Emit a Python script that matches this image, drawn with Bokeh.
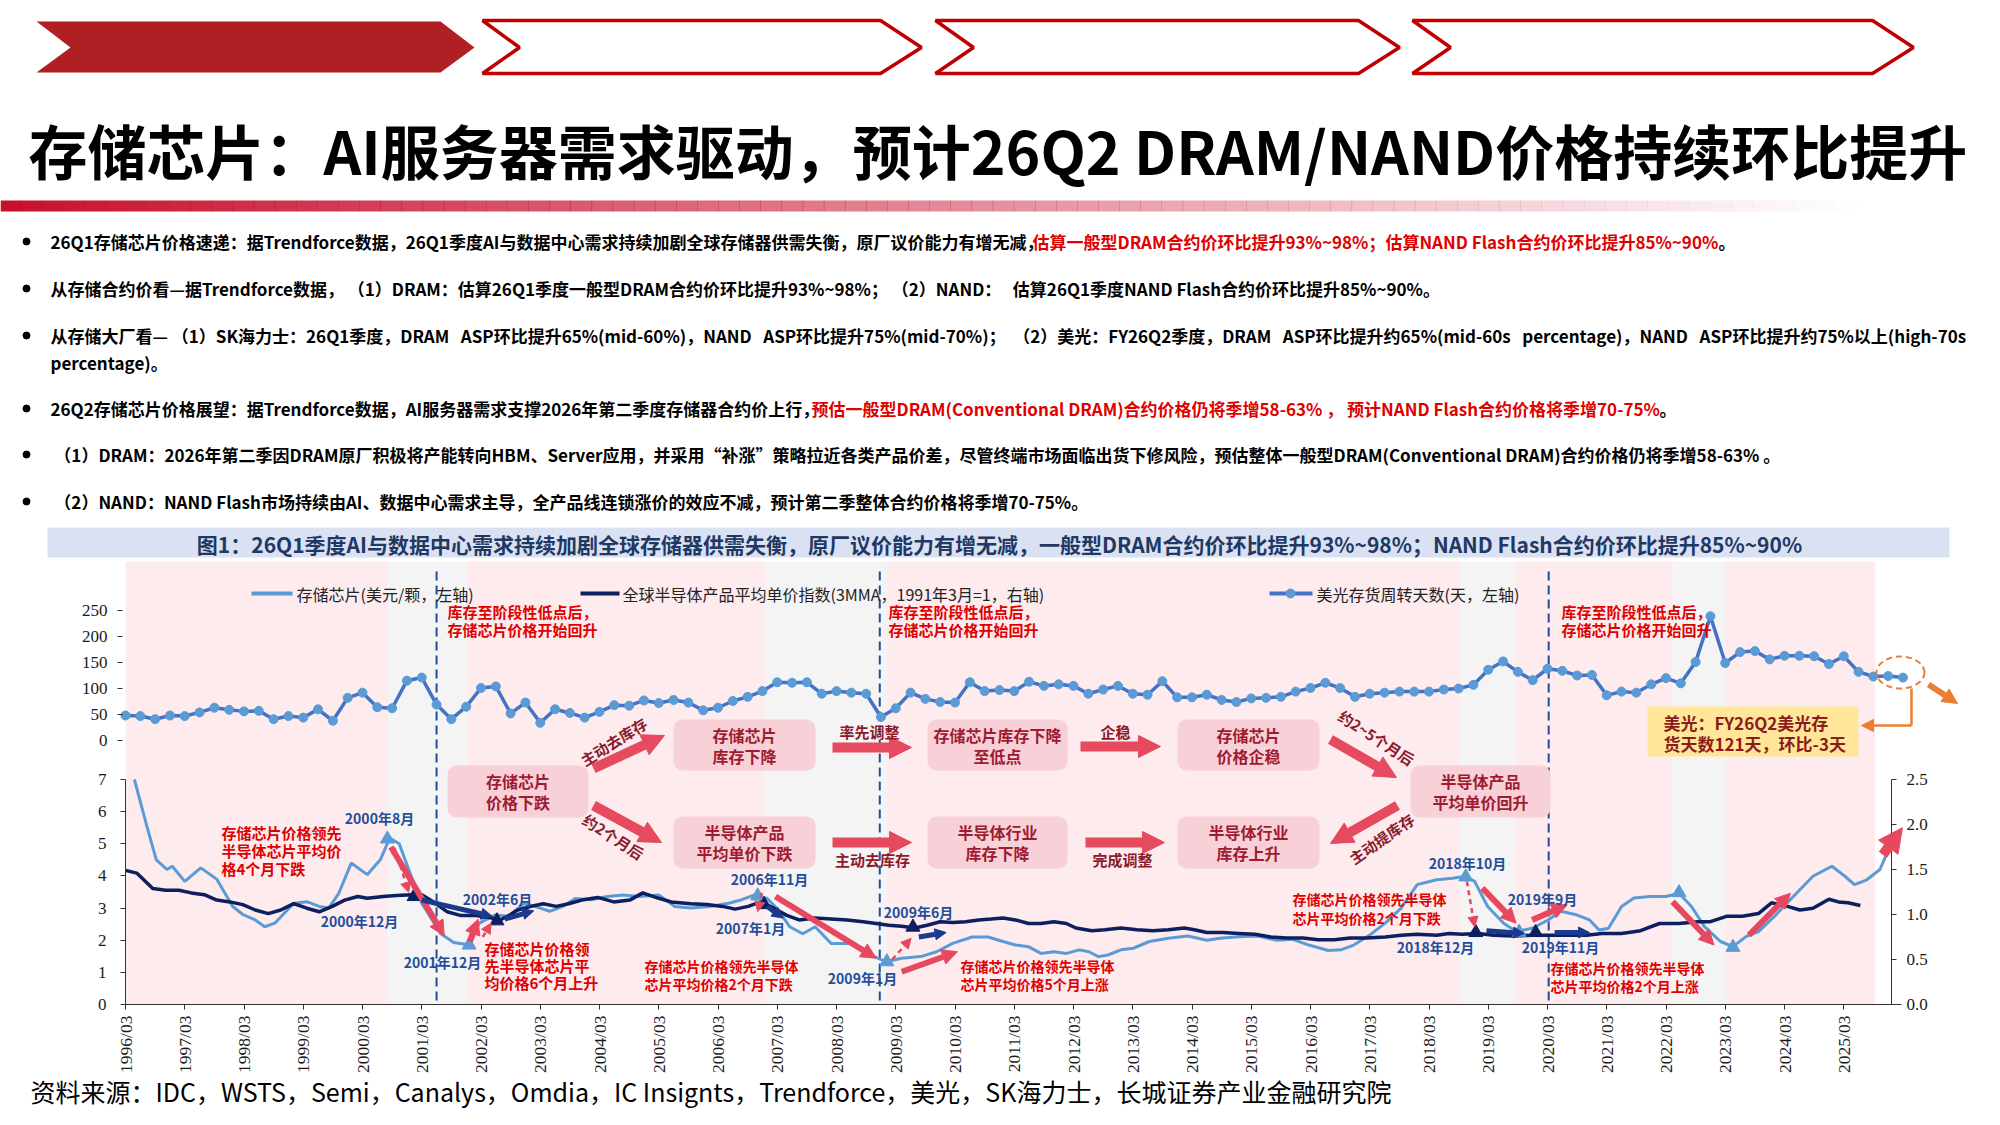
import math
from bokeh.plotting import figure
from bokeh.models import (Range1d, LinearAxis, FixedTicker, Arrow, NormalHead,
                          BoxAnnotation, NumeralTickFormatter, CustomJSTickFormatter)
from bokeh.core.properties import value
from bokeh.embed import file_html
from bokeh.resources import INLINE

# ---------------------------------------------------------------- data
# Micron inventory days, quarterly from 1996/03 to 2026/03 (left axis, top panel)
inv_start = 1996.0
inv_days = [48, 47, 41, 48, 47, 54, 63, 59, 56, 57, 41, 47, 44, 60, 38, 82, 92, 64, 62, 115,
            121, 69, 41, 65, 101, 104, 52, 73, 34, 60, 53, 44, 55, 68, 67, 77, 72, 78, 73, 58,
            63, 76, 84, 95, 112, 111, 112, 90, 95, 92, 90, 45, 62, 92, 80, 74, 73, 112, 95, 97,
            95, 113, 105, 108, 105, 90, 98, 105, 90, 88, 114, 83, 83, 88, 78, 74, 81, 82, 84, 94,
            101, 111, 101, 84, 90, 92, 94, 94, 94, 98, 100, 107, 136, 152, 132, 116, 138, 134, 125, 126,
            87, 94, 92, 108, 120, 110, 151, 239, 149, 170, 172, 156, 163, 163, 162, 147, 162, 132, 123, 124, 121]

# memory chip price (USD/unit, left axis, bottom panel); time = year + (month-3)/12
mem_t = [1996.15, 1996.36, 1996.52, 1996.70, 1996.79, 1997.00, 1997.27, 1997.54, 1997.81, 1997.98,
         1998.19, 1998.35, 1998.52, 1998.84, 1999.06, 1999.27, 1999.43, 1999.60, 1999.81, 2000.08,
         2000.30, 2000.46, 2000.62, 2000.78, 2001.00, 2001.32, 2001.54, 2001.81, 2001.97, 2002.24,
         2002.46, 2002.73, 2003.00, 2003.16, 2003.38, 2003.59, 2003.86, 2004.13, 2004.40, 2004.67,
         2005.00, 2005.27, 2005.54, 2005.86, 2006.18, 2006.40, 2006.62, 2006.83, 2006.99, 2007.21,
         2007.43, 2007.64, 2007.91, 2008.24, 2008.51, 2008.83, 2009.10, 2009.42, 2009.69, 2009.96,
         2010.29, 2010.56, 2010.81, 2011.02, 2011.24, 2011.45, 2011.67, 2011.88, 2012.10, 2012.26,
         2012.42, 2012.58, 2012.80, 2013.01, 2013.28, 2013.60, 2013.93, 2014.25, 2014.47, 2014.79,
         2015.11, 2015.43, 2015.70, 2015.97, 2016.30, 2016.51, 2016.73, 2017.00, 2017.26, 2017.53,
         2017.80, 2018.13, 2018.40, 2018.61, 2018.77, 2018.99, 2019.26, 2019.47, 2019.74, 2020.01,
         2020.22, 2020.49, 2020.71, 2020.87, 2021.03, 2021.25, 2021.46, 2021.73, 2022.00, 2022.22,
         2022.43, 2022.65, 2022.92, 2023.13, 2023.35, 2023.56, 2023.83, 2024.15, 2024.48, 2024.80,
         2025.02, 2025.18, 2025.39, 2025.61, 2025.72]
mem_v = [7.0, 5.55, 4.5, 4.2, 4.3, 3.83, 4.25, 3.9, 3.05, 2.8,
         2.63, 2.42, 2.53, 3.15, 3.2, 3.05, 3.0, 3.46, 4.4, 4.04,
         4.5, 5.18, 5.0, 4.2, 3.15, 2.2, 1.93, 1.85, 2.53, 2.79,
         2.74, 3.15, 3.0, 2.9, 3.05, 3.3, 3.26, 3.36, 3.41, 3.36,
         3.41, 3.05, 3.0, 3.05, 3.15, 3.26, 3.41, 3.3, 3.0, 2.42,
         2.2, 2.42, 1.9, 1.9, 1.6, 1.33, 1.44, 1.49, 1.64, 1.9,
         2.1, 2.1, 1.96, 1.85, 1.8, 1.59, 1.64, 1.59, 1.7, 1.64,
         1.49, 1.54, 1.7, 1.75, 1.96, 2.06, 2.13, 2.0, 2.06, 2.11,
         2.13, 2.0, 2.03, 1.85, 1.68, 1.7, 1.85, 2.16, 2.53, 3.0,
         3.73, 3.88, 3.93, 3.99, 3.83, 3.05, 2.53, 2.27, 2.37, 2.63,
         2.9, 2.79, 2.63, 2.32, 2.37, 3.05, 3.31, 3.36, 3.36, 3.46,
         3.05, 2.42, 1.96, 1.8, 2.11, 2.27, 2.74, 3.36, 3.99, 4.3,
         3.99, 3.73, 3.88, 4.2, 4.66]

# global semiconductor ASP index (3MMA, 1991/03=1, right axis)
asp_t = [1996.00, 1996.19, 1996.46, 1996.68, 1996.90, 1997.11, 1997.33, 1997.54, 1997.76, 1997.98,
         1998.19, 1998.41, 1998.62, 1998.84, 1999.06, 1999.27, 1999.49, 1999.70, 1999.92, 2000.08,
         2000.35, 2000.57, 2000.84, 2001.00, 2001.22, 2001.43, 2001.65, 2001.92, 2002.19, 2002.30,
         2002.50, 2002.62, 2002.84, 2003.05, 2003.27, 2003.48, 2003.70, 2003.97, 2004.24, 2004.51,
         2004.73, 2005.00, 2005.21, 2005.54, 2005.81, 2006.08, 2006.29, 2006.51, 2006.72, 2006.94,
         2007.16, 2007.37, 2007.64, 2007.91, 2008.18, 2008.45, 2008.67, 2008.88, 2009.10, 2009.32,
         2009.53, 2009.75, 2009.96, 2010.18, 2010.40, 2010.61, 2010.81, 2011.02, 2011.24, 2011.45,
         2011.67, 2011.88, 2012.04, 2012.31, 2012.53, 2012.80, 2013.07, 2013.34, 2013.60, 2013.87,
         2014.04, 2014.25, 2014.52, 2014.79, 2015.06, 2015.33, 2015.60, 2015.87, 2016.13, 2016.40,
         2016.67, 2016.94, 2017.26, 2017.53, 2017.80, 2018.13, 2018.34, 2018.56, 2018.83, 2019.09,
         2019.42, 2019.74, 2020.06, 2020.38, 2020.66, 2020.92, 2021.25, 2021.57, 2021.89, 2022.22,
         2022.54, 2022.75, 2023.02, 2023.29, 2023.56, 2023.78, 2024.05, 2024.26, 2024.48, 2024.75,
         2024.91, 2025.07, 2025.28]
asp_v = [1.49, 1.46, 1.29, 1.27, 1.27, 1.24, 1.22, 1.16, 1.14, 1.11,
         1.05, 1.01, 1.05, 1.12, 1.07, 1.03, 1.09, 1.16, 1.20, 1.18,
         1.20, 1.21, 1.22, 1.22, 1.13, 1.03, 0.99, 0.99, 0.96, 0.93,
         1.00, 1.05, 1.09, 1.12, 1.09, 1.12, 1.16, 1.19, 1.14, 1.16,
         1.24, 1.18, 1.14, 1.12, 1.11, 1.09, 1.06, 1.09, 1.14, 1.07,
         0.99, 0.94, 0.96, 0.95, 0.94, 0.92, 0.90, 0.88, 0.87, 0.85,
         0.88, 0.92, 0.91, 0.92, 0.94, 0.95, 0.96, 0.94, 0.90, 0.90,
         0.92, 0.90, 0.85, 0.82, 0.83, 0.85, 0.83, 0.82, 0.83, 0.85,
         0.83, 0.80, 0.80, 0.79, 0.78, 0.75, 0.74, 0.74, 0.72, 0.72,
         0.74, 0.74, 0.75, 0.77, 0.78, 0.77, 0.79, 0.78, 0.79, 0.77,
         0.76, 0.77, 0.77, 0.77, 0.77, 0.79, 0.79, 0.82, 0.90, 0.90,
         0.92, 0.92, 0.98, 0.98, 1.01, 1.13, 1.09, 1.05, 1.07, 1.17,
         1.14, 1.13, 1.10]

# shaded phases
band_start = [1996.0, 2000.44, 2001.76, 2006.80, 2008.85, 2018.53, 2019.44, 2022.11, 2023.00]
band_end = [2000.44, 2001.76, 2006.80, 2008.85, 2018.53, 2019.44, 2022.11, 2023.00, 2025.53]
band_kind = ["up", "turn", "up", "turn", "up", "turn", "up", "turn", "up"]
turn_lines = [2001.25, 2008.73, 2020.02]

# turning points
mem_tri_t = [2000.42, 2001.80, 2006.67, 2008.85, 2018.62, 2019.52, 2022.22, 2023.13]
mem_tri_v = [5.15, 1.85, 3.38, 1.33, 3.97, 2.25, 3.48, 1.78]
asp_tri_t = [2000.87, 2002.27, 2006.78, 2009.29, 2018.79, 2019.80]
asp_tri_v = [1.20, 0.93, 1.11, 0.86, 0.80, 0.80]

x_tick_years = list(range(1996, 2026))
x_tick_labels = [f"{y}/03" for y in x_tick_years]
left_ticks = [0, 1, 2, 3, 4, 5, 6, 7]
right_ticks = [0.0, 0.5, 1.0, 1.5, 2.0, 2.5]
top_ticks = [0, 50, 100, 150, 200, 250]

# ---------------------------------------------------------------- figure
CJK = "Noto Sans CJK SC"
SERIF = "Liberation Serif"
W, H = 1984, 1109
p = figure(width=W, height=H, x_range=Range1d(0, W), y_range=Range1d(H, 0),
           x_axis_type=None, y_axis_type=None, output_backend="svg",
           toolbar_location=None, min_border=0, outline_line_color=None)

X0, PPY = 125.0, 59.25          # pixel of 1996/03, pixels per year
YB0, PPU_L, PPU_R = 1004.0, 225.0 / 7, 225.0 / 2.5
YT0, PPU_T = 740.0, 130.0 / 250
p.extra_x_ranges = {"yr": Range1d(1996 + (0 - X0) / PPY, 1996 + (W - X0) / PPY)}
p.extra_y_ranges = {
    "bot": Range1d((YB0 - H) / PPU_L, YB0 / PPU_L),
    "r": Range1d((YB0 - H) / PPU_R, YB0 / PPU_R),
    "top": Range1d((YT0 - H) / PPU_T, YT0 / PPU_T),
}


def T(x, y, s, size, color="#000000", bold=False, align="left", angle=0.0,
      font=CJK, xr="default", yr="default", baseline="middle"):
    p.text(x=[x], y=[y], text=[s], text_font=value(font),
           text_font_size=f"{size}px", text_font_style="bold" if bold else "normal",
           text_color=color, text_align=align, text_baseline=baseline,
           angle=math.radians(angle), x_range_name=xr, y_range_name=yr, level="overlay")


NB = "\u00a0"

# ---------------------------------------------------------------- header
RED = "#C00000"
p.patch([36, 440, 474, 440, 36, 70], [21, 21, 47, 72, 72, 47], fill_color="#B01F24", line_color=None)
for pts in ([482, 880, 921, 880, 482, 519], [935, 1358, 1399, 1358, 935, 973],
            [1412, 1872, 1913, 1872, 1412, 1450]):
    p.patch(pts, [20, 20, 47, 73, 73, 47], fill_color="white", line_color=RED, line_width=3.5)

T(28, 149, "存储芯片：AI服务器需求驱动，预计26Q2 DRAM/NAND价格持续环比提升", 59, bold=True)

n = 90
seg = 1900 / n
for i in range(n):
    a = max(0.0, 1 - i / (n * 0.97))
    p.quad(left=i * seg, right=(i + 1) * seg + 0.5, top=200, bottom=211,
           fill_color="#C8102E", fill_alpha=a, line_color=None)

# bullets
BR = "#E00000"
FS = 17
p.scatter([26, 26, 26, 26, 26, 26], [241, 288, 335, 408, 454, 501], size=7, color="black")
T(50, 241, "26Q1存储芯片价格速递：据Trendforce数据，26Q1季度AI与数据中心需求持续加剧全球存储器供需失衡，原厂议价能力有增无减，", FS, bold=True)
T(1032, 241, "估算一般型DRAM合约价环比提升93%~98%；估算NAND Flash合约价环比提升85%~90%", FS, BR, bold=True)
T(1718, 241, "。", FS, bold=True)
T(50, 288, "从存储合约价看—据Trendforce数据，" + NB + "（1）DRAM：估算26Q1季度一般型DRAM合约价环比提升93%~98%；" + NB + "（2）NAND：" + NB * 3 + "估算26Q1季度NAND Flash合约价环比提升85%~90%。", FS, bold=True)
T(50, 335, "从存储大厂看—" + NB + "（1）SK海力士：26Q1季度，DRAM" + NB * 3 + "ASP环比提升65%(mid-60%)，NAND" + NB * 3 + "ASP环比提升75%(mid-70%)；" + NB * 2 + "（2）美光：FY26Q2季度，DRAM" + NB * 3 + "ASP环比提升约65%(mid-60s" + NB * 3 + "percentage)，NAND" + NB * 3 + "ASP环比提升约75%以上(high-70s", FS, bold=True)
T(50, 362, "percentage)。", FS, bold=True)
T(50, 408, "26Q2存储芯片价格展望：据Trendforce数据，AI服务器需求支撑2026年第二季度存储器合约价上行，", FS, bold=True)
T(811, 408, "预估一般型DRAM(Conventional DRAM)合约价格仍将季增58-63%" + NB + "，" + NB + "预计NAND Flash合约价格将季增70-75%", FS, BR, bold=True)
T(1659, 408, "。", FS, bold=True)
T(50, 454, NB + "（1）DRAM：2026年第二季因DRAM原厂积极将产能转向HBM、Server应用，并采用“补涨”策略拉近各类产品价差，尽管终端市场面临出货下修风险，预估整体一般型DRAM(Conventional DRAM)合约价格仍将季增58-63%" + NB + "。", FS, bold=True)
T(50, 501, NB + "（2）NAND：NAND Flash市场持续由AI、数据中心需求主导，全产品线连锁涨价的效应不减，预计第二季整体合约价格将季增70-75%。", FS, bold=True)

# figure title band
p.quad(left=47, right=1949, top=527, bottom=557, fill_color="#D9E1F2", line_color=None)
T(999, 543, "图1：26Q1季度AI与数据中心需求持续加剧全球存储器供需失衡，原厂议价能力有增无减，一般型DRAM合约价环比提升93%~98%；NAND Flash合约价环比提升85%~90%",
  21, "#1F3864", bold=True, align="center")

# ---------------------------------------------------------------- chart background
for s, e, k in zip(band_start, band_end, band_kind):
    p.quad(left=s, right=e, top=561, bottom=YB0, x_range_name="yr",
           fill_color="#FDEBEE" if k == "up" else "#F4F4F4", line_color=None)
p.segment(x0=turn_lines, y0=[571] * 3, x1=turn_lines, y1=[1001] * 3, x_range_name="yr",
          line_color="#1F4E9A", line_width=2, line_dash="9 5")

# ---------------------------------------------------------------- axes
def style(ax, size="16px"):
    ax.major_label_text_font = SERIF
    ax.major_label_text_font_size = size
    ax.major_label_text_color = "#1a1a1a"
    ax.minor_tick_line_color = None
    ax.major_tick_in = 0
    ax.major_tick_out = 5
    ax.axis_line_color = "#333333"
    ax.major_tick_line_color = "#333333"


ax_top = LinearAxis(y_range_name="top", fixed_location=122, bounds=(0, 250),
                    ticker=FixedTicker(ticks=top_ticks))
style(ax_top, "17px")
ax_top.axis_line_color = None
ax_top.major_label_standoff = 10
p.add_layout(ax_top, "left")

ax_l = LinearAxis(y_range_name="bot", fixed_location=125, bounds=(0, 7),
                  ticker=FixedTicker(ticks=left_ticks))
style(ax_l, "17px")
ax_l.major_label_standoff = 14
p.add_layout(ax_l, "left")

ax_r = LinearAxis(y_range_name="r", fixed_location=1891, bounds=(0, 2.5),
                  ticker=FixedTicker(ticks=right_ticks), formatter=NumeralTickFormatter(format="0.0"))
style(ax_r, "17px")
ax_r.major_label_standoff = 10
p.add_layout(ax_r, "right")

ax_x = LinearAxis(x_range_name="yr", fixed_location=YB0, bounds=(1996, 2025.97),
                  ticker=FixedTicker(ticks=x_tick_years),
                  formatter=CustomJSTickFormatter(args=dict(years=x_tick_years, labels=x_tick_labels),
                                                  code="const i = years.indexOf(Math.round(tick)); return i >= 0 ? labels[i] : '';"),
                  major_label_orientation=math.pi / 2)
style(ax_x, "17.5px")
ax_x.major_label_standoff = 6
p.add_layout(ax_x, "below")

# ---------------------------------------------------------------- series
LB, NAVY, MB = "#5B9BD5", "#0C1F5E", "#4472C4"
inv_t = [inv_start + 0.25 * i for i in range(len(inv_days))]
p.line(inv_t, inv_days, x_range_name="yr", y_range_name="top", line_color=MB, line_width=3.5)
p.scatter(inv_t, inv_days, x_range_name="yr", y_range_name="top", size=9,
          fill_color=LB, line_color=LB)
p.line(mem_t, mem_v, x_range_name="yr", y_range_name="bot", line_color=LB, line_width=3)
p.line(asp_t, asp_v, x_range_name="yr", y_range_name="r", line_color=NAVY, line_width=3.5)

# legend (drawn by hand to match the original placement)
p.line([251, 292], [593, 593], line_color=LB, line_width=4)
T(296, 593, "存储芯片(美元/颗，左轴)", 16, "#222222")
p.line([580, 619], [593, 593], line_color=NAVY, line_width=4)
T(622, 593, "全球半导体产品平均单价指数(3MMA，1991年3月=1，右轴)", 16, "#222222")
p.line([1269, 1312], [593, 593], line_color=MB, line_width=4)
p.scatter([1290], [593], size=9, fill_color=LB, line_color=LB)
T(1316, 593, "美光存货周转天数(天，左轴)", 16, "#222222")

# ---------------------------------------------------------------- bottom-panel markers and arrows
ARR = "#E8485F"
red_arrows = [  # t0, v0, t1, v1, dashed
    (2000.48, 4.90, 2001.38, 2.14, False),
    (2000.54, 4.87, 2000.78, 3.49, True),
    (2001.81, 1.96, 2001.95, 2.65, False),
    (2002.03, 2.10, 2002.17, 2.53, True),
    (2006.74, 3.47, 2006.67, 2.89, True),
    (2006.97, 3.36, 2008.67, 1.44, False),
    (2008.94, 1.40, 2009.26, 2.06, True),
    (2009.10, 1.02, 2010.04, 1.64, False),
    (2018.64, 3.83, 2018.77, 2.42, True),
    (2018.90, 3.62, 2019.47, 2.53, False),
    (2019.74, 2.63, 2020.33, 3.10, False),
    (2022.11, 3.20, 2022.81, 1.85, False),
    (2023.40, 2.16, 2024.10, 3.46, False),
]
for t0, v0, t1, v1, d in red_arrows:
    p.add_layout(Arrow(x_start=t0, y_start=v0, x_end=t1, y_end=v1,
                       x_range_name="yr", y_range_name="bot",
                       line_color=ARR, line_width=2.5 if d else 6, line_dash="5 4" if d else "solid",
                       end=NormalHead(size=10 if d else 15, fill_color=ARR, line_color=ARR)))
p.add_layout(Arrow(x_start=2025.66, y_start=4.66, x_end=2025.99, y_end=5.50,
                   x_range_name="yr", y_range_name="bot", line_color=ARR, line_width=10,
                   end=NormalHead(size=24, fill_color=ARR, line_color=ARR)))

navy_arrows = [
    (2001.00, 1.16, 2002.19, 0.98),
    (2002.40, 0.95, 2002.89, 1.04),
    (2006.83, 1.09, 2007.10, 0.96),
    (2009.39, 0.75, 2009.85, 0.80),
    (2018.97, 0.82, 2019.61, 0.79),
    (2020.12, 0.80, 2020.71, 0.80),
]
for t0, v0, t1, v1 in navy_arrows:
    p.add_layout(Arrow(x_start=t0, y_start=v0, x_end=t1, y_end=v1,
                       x_range_name="yr", y_range_name="r", line_color="#1B3A8C", line_width=5,
                       end=NormalHead(size=11, fill_color="#1B3A8C", line_color="#1B3A8C")))

p.scatter(mem_tri_t, mem_tri_v, x_range_name="yr", y_range_name="bot", marker="triangle",
          size=14, fill_color=LB, line_color=LB)
p.scatter(asp_tri_t, asp_tri_v, x_range_name="yr", y_range_name="r", marker="triangle",
          size=14, fill_color=NAVY, line_color=NAVY)

# date labels
DB = "#1F4E9A"
for x, y, s in [(379, 817, "2000年8月"), (359, 920, "2000年12月"), (442, 961, "2001年12月"),
                (497, 898, "2002年6月"), (769, 878, "2006年11月"), (750, 927, "2007年1月"),
                (918, 911, "2009年6月"), (862, 977, "2009年1月"), (1467, 862, "2018年10月"),
                (1435, 946, "2018年12月"), (1542, 898, "2019年9月"), (1560, 946, "2019年11月")]:
    T(x, y, s, 14, DB, bold=True, align="center")

# red commentary
for x, ys, lines, fs in [
    (221, [832, 850, 868], ["存储芯片价格领先", "半导体芯片平均价", "格4个月下跌"], 15),
    (484, [948, 965, 982], ["存储芯片价格领", "先半导体芯片平", "均价格6个月上升"], 15),
    (644, [965, 983], ["存储芯片价格领先半导体", "芯片平均价格2个月下跌"], 14),
    (960, [965, 983], ["存储芯片价格领先半导体", "芯片平均价格5个月上涨"], 14),
    (1292, [898, 917], ["存储芯片价格领先半导体", "芯片平均价格2个月下跌"], 14),
    (1550, [967, 985], ["存储芯片价格领先半导体", "芯片平均价格2个月上涨"], 14),
]:
    for y, s in zip(ys, lines):
        T(x, y, s, fs, BR, bold=True)

for x in (447, 888, 1561):
    T(x, 611, "库存至阶段性低点后，", 15, BR, bold=True)
    T(x, 629, "存储芯片价格开始回升", 15, BR, bold=True)

# ---------------------------------------------------------------- flow diagram
BOXC, BOXT = "#F8D0D7", "#9E1B32"
for l, r, t, b, s1, s2 in [
    (447, 588, 765, 817, "存储芯片", "价格下跌"),
    (673, 815, 719, 770, "存储芯片", "库存下降"),
    (673, 815, 816, 868, "半导体产品", "平均单价下跌"),
    (927, 1067, 719, 770, "存储芯片库存下降", "至低点"),
    (927, 1067, 816, 868, "半导体行业", "库存下降"),
    (1177, 1319, 719, 770, "存储芯片", "价格企稳"),
    (1177, 1319, 816, 868, "半导体行业", "库存上升"),
    (1410, 1550, 765, 817, "半导体产品", "平均单价回升"),
]:
    p.add_layout(BoxAnnotation(left=l, right=r, top=t, bottom=b, fill_color=BOXC, fill_alpha=1.0,
                               line_color=None, border_radius=9))
    c, m = (l + r) / 2, (t + b) / 2
    T(c, m - 10.5, s1, 16, BOXT, bold=True, align="center")
    T(c, m + 10.5, s2, 16, BOXT, bold=True, align="center")

FA = "#E64A5F"
for x0, y0, x1, y1 in [(593, 768, 664, 735), (593, 805, 661, 842), (832, 747, 911, 747),
                       (832, 842, 911, 842), (1080, 746, 1160, 746), (1085, 842, 1164, 842),
                       (1330, 739, 1396, 777), (1397, 805, 1330, 843)]:
    p.add_layout(Arrow(x_start=x0, y_start=y0, x_end=x1, y_end=y1, line_color=FA, line_width=10,
                       end=NormalHead(size=22, fill_color=FA, line_color=FA)))
FT = "#8B1A2B"
T(613, 741, "主动去库存", 15, FT, bold=True, align="center", angle=32)
T(613, 836, "约2个月后", 15, FT, bold=True, align="center", angle=-33)
T(869, 731, "率先调整", 15, FT, bold=True, align="center")
T(872, 859, "主动去库存", 15, FT, bold=True, align="center")
T(1115, 731, "企稳", 15, FT, bold=True, align="center")
T(1122, 859, "完成调整", 15, FT, bold=True, align="center")
T(1376, 737, "约2~5个月后", 15, FT, bold=True, align="center", angle=-33)
T(1381, 838, "主动提库存", 15, FT, bold=True, align="center", angle=35)

# ---------------------------------------------------------------- Micron callout
OR = "#ED7D31"
p.ellipse(x=[1900], y=[672], width=48, height=32, fill_color=None, line_color=OR,
          line_width=2, line_dash="6 4")
p.segment(x0=[1911], y0=[688], x1=[1911], y1=[725], line_color=OR, line_width=2.5)
p.add_layout(Arrow(x_start=1911, y_start=725, x_end=1861, y_end=725, line_color=OR, line_width=2.5,
                   end=NormalHead(size=12, fill_color=OR, line_color=OR)))
p.add_layout(Arrow(x_start=1928, y_start=684, x_end=1957, y_end=703, line_color=OR, line_width=6,
                   end=NormalHead(size=15, fill_color=OR, line_color=OR)))
p.quad(left=1647, right=1858, top=706, bottom=756, fill_color="#FFE699", line_color=None)
T(1663, 722, "美光：FY26Q2美光存", 17, "#8C1C1C", bold=True)
T(1663, 743, "货天数121天，环比-3天", 17, "#8C1C1C", bold=True)

# ---------------------------------------------------------------- source
T(30, 1090, "资料来源：IDC，WSTS，Semi，Canalys，Omdia，IC Insignts，Trendforce，美光，SK海力士，长城证券产业金融研究院", 25)

open("out.html", "w").write(file_html(p, INLINE, "chart"))
